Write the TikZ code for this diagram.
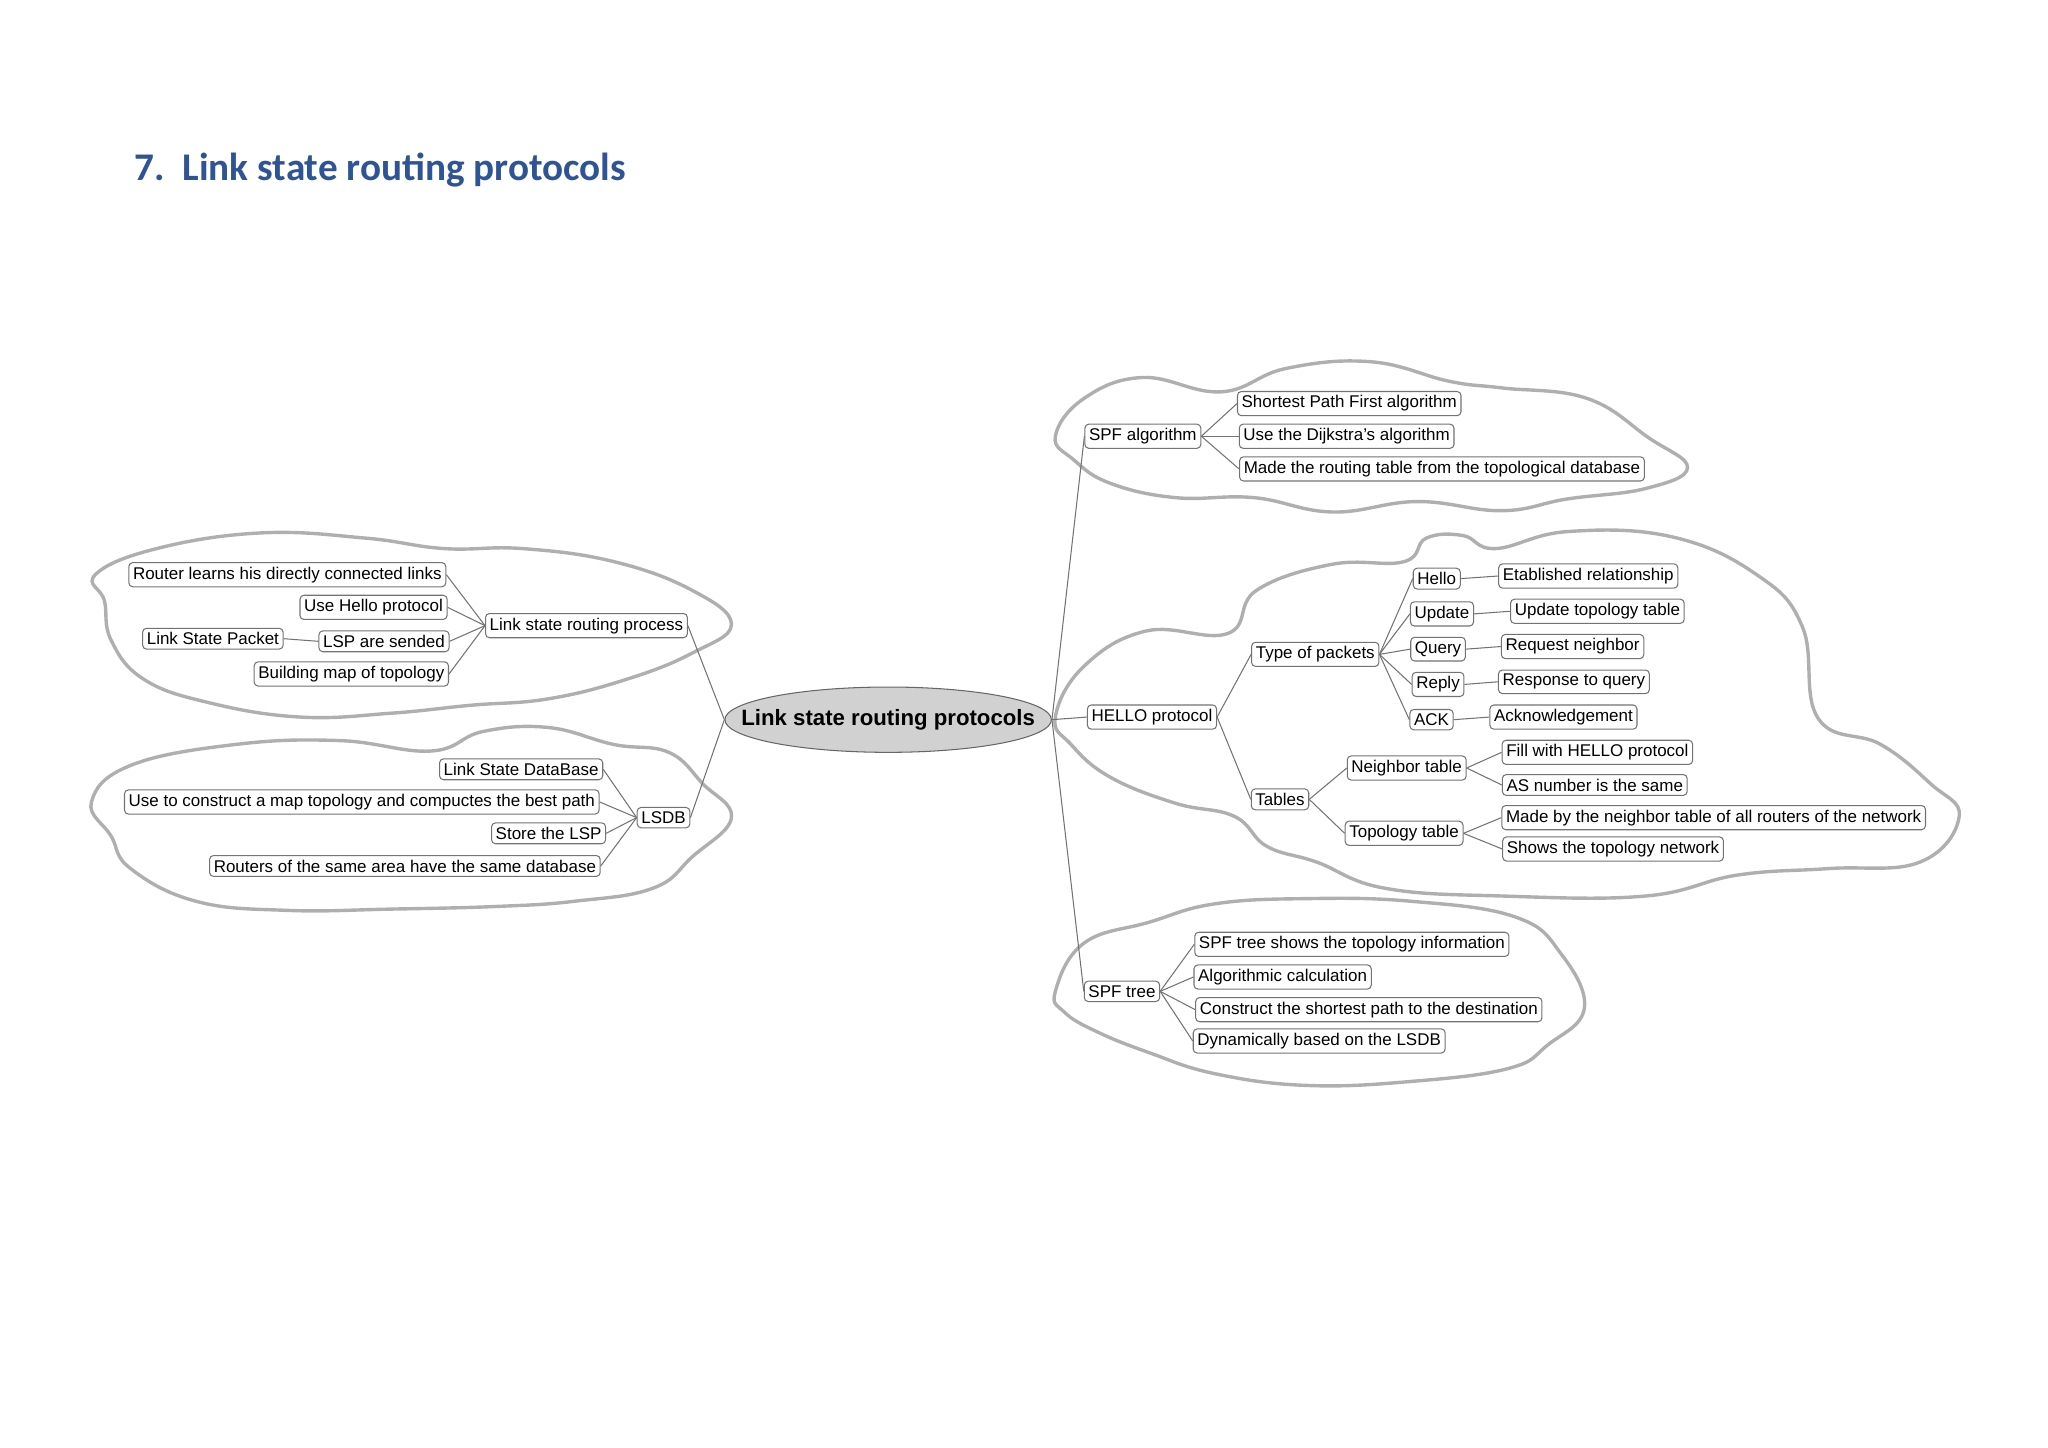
\documentclass[tikz,border=0pt]{standalone}
\usepackage{fontspec}
\setmainfont{Liberation Sans}
\newfontfamily\titlefont{Carlito}
\usetikzlibrary{shapes.geometric}
\definecolor{cloudc}{RGB}{175,175,175}
\definecolor{titlec}{RGB}{47,84,150}
\tikzset{
  box/.style={draw=black!55, rounded corners=1.5pt, fill=white, inner sep=1.6pt, font=\fontsize{6.5}{7.5}\selectfont},
  cloud/.style={draw=cloudc, line width=1.3pt},
  link/.style={draw=black!55, line width=0.4pt}
}
\begin{document}
\begin{tikzpicture}[x=0.5pt,y=-0.5pt]
\useasboundingbox (0,0) rectangle (1568,1108);
\node[anchor=west, text=titlec, font=\titlefont\bfseries\fontsize{15}{17}\selectfont] (title) at (96,130) {7.\ \ Link state routing protocols};
% clouds
\draw[cloud] plot[smooth cycle, tension=0.7] coordinates {(808,334)(830,305)(875,289)(935,300)(985,282)(1050,277)(1110,292)(1150,297)(1215,305)(1262,335)(1292,358)(1260,374)(1200,382)(1150,391)(1085,384)(1020,392)(960,381)(900,381)(850,370)(822,352)};
\draw[cloud] plot[smooth cycle, tension=0.7] coordinates {(808,549)(830,510)(878,483)(940,485)(962,452)(1020,432)(1075,430)(1092,412)(1120,410)(1145,420)(1200,407)(1280,411)(1345,440)(1380,480)(1392,550)(1440,570)(1478,600)(1500,625)(1470,660)(1400,665)(1330,670)(1260,686)(1150,686)(1060,680)(1008,660)(970,648)(945,625)(900,615)(850,595)(820,570)};
\draw[cloud] plot[smooth cycle, tension=0.7] coordinates {(808,759)(830,722)(880,706)(930,692)(1000,688)(1080,690)(1160,702)(1195,730)(1213,772)(1185,800)(1155,818)(1080,828)(1000,831)(930,822)(880,806)(840,790)(815,775)};
\draw[cloud] plot[smooth cycle, tension=0.7] coordinates {(73,440)(120,420)(200,408)(280,412)(340,420)(400,420)(470,430)(530,452)(560,478)(530,500)(480,520)(420,535)(360,540)(300,546)(230,549)(160,538)(110,520)(85,490)(80,460)};
\draw[cloud] plot[smooth cycle, tension=0.7] coordinates {(70,614)(100,586)(180,570)(260,567)(330,575)(370,560)(420,557)(470,570)(512,576)(538,600)(560,626)(530,656)(500,680)(440,690)(380,694)(300,696)(220,697)(150,690)(100,665)(85,640)};
% nodes
\node[ellipse, draw=black!60, fill=black!18, inner sep=0pt, minimum width=125pt, minimum height=25pt] (c) at (680,551) {};
\node[font=\bfseries\fontsize{8.5}{9.5}\selectfont] (ct) at (c.center) {Link state routing protocols};
\node[box] (lsrp) at (449,479) {Link state routing process};
\node[box] (r1) at (220,440) {Router learns his directly connected links};
\node[box] (r2) at (286,465) {Use Hello protocol};
\node[box] (r3) at (294,491) {LSP are sended};
\node[box] (r3a) at (163,489) {Link State Packet};
\node[box] (r4) at (269,516) {Building map of topology};
\node[box] (lsdb) at (508,626) {LSDB};
\node[box] (d1) at (399,589) {Link State DataBase};
\node[box] (d2) at (277,614) {Use to construct a map topology and compuctes the best path};
\node[box] (d3) at (420,638) {Store the LSP};
\node[box] (d4) at (310,663) {Routers of the same area have the same database};
\node[box] (spf) at (875,334) {SPF algorithm};
\node[box] (s1) at (1033,309) {Shortest Path First algorithm};
\node[box] (s2) at (1031,334) {Use the Dijkstra's algorithm};
\node[box] (s3) at (1104,359) {Made the routing table from the topological database};
\node[box] (hello) at (882,549) {HELLO protocol};
\node[box] (tp) at (1007,501) {Type of packets};
\node[box] (h1) at (1100,443) {Hello};
\node[box] (e1) at (1216,441) {Etablished relationship};
\node[box] (h2) at (1104,470) {Update};
\node[box] (e2) at (1223,468) {Update topology table};
\node[box] (h3) at (1101,497) {Query};
\node[box] (e3) at (1204,495) {Request neighbor};
\node[box] (h4) at (1101,524) {Reply};
\node[box] (e4) at (1205,522) {Response to query};
\node[box] (h5) at (1096,551) {ACK};
\node[box] (e5) at (1197,549) {Acknowledgement};
\node[box] (tables) at (980,612) {Tables};
\node[box] (nt) at (1077,588) {Neighbor table};
\node[box] (n1) at (1223,576) {Fill with HELLO protocol};
\node[box] (n2) at (1221,601) {AS number is the same};
\node[box] (tt) at (1075,638) {Topology table};
\node[box] (t1) at (1312,626) {Made by the neighbor table of all routers of the network};
\node[box] (t2) at (1235,650) {Shows the topology network};
\node[box] (spft) at (859,759) {SPF tree};
\node[box] (f1) at (1035,723) {SPF tree shows the topology information};
\node[box] (f2) at (982,748) {Algorithmic calculation};
\node[box] (f3) at (1048,773) {Construct the shortest path to the destination};
\node[box] (f4) at (1010,797) {Dynamically based on the LSDB};
% links
\foreach \a/\b in {c/spf,c/hello,c/spft,spf/s1,spf/s2,spf/s3,hello/tp,hello/tables,tp/h1,tp/h2,tp/h3,tp/h4,tp/h5,h1/e1,h2/e2,h3/e3,h4/e4,h5/e5,tables/nt,tables/tt,nt/n1,nt/n2,tt/t1,tt/t2,spft/f1,spft/f2,spft/f3,spft/f4}
  \draw[link] (\a.east) -- (\b.west);
\foreach \a/\b in {c/lsrp,c/lsdb,lsrp/r1,lsrp/r2,lsrp/r3,lsrp/r4,r3/r3a,lsdb/d1,lsdb/d2,lsdb/d3,lsdb/d4}
  \draw[link] (\a.west) -- (\b.east);
\end{tikzpicture}
\end{document}
